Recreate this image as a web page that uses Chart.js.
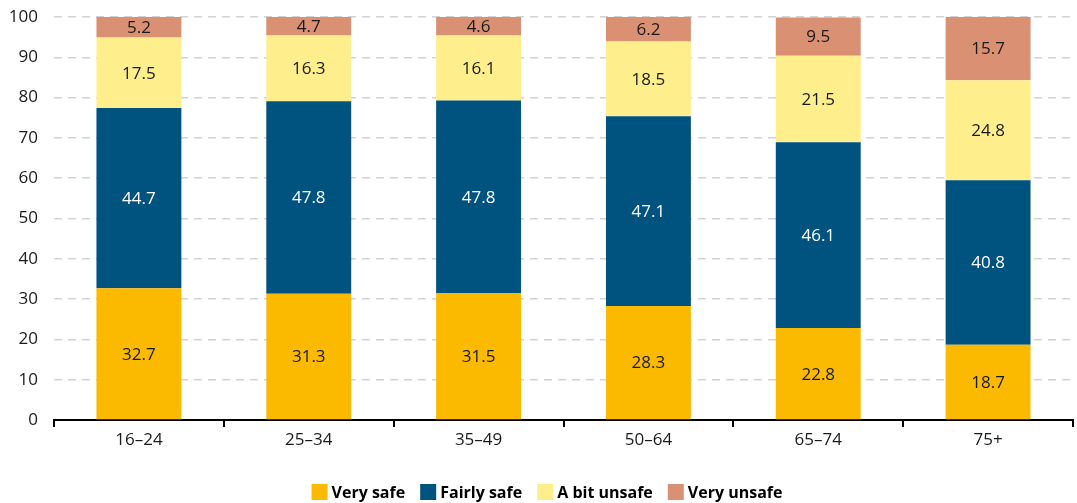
<!DOCTYPE html>
<html>
<head>
<meta charset="utf-8">
<script src="https://cdn.jsdelivr.net/npm/chart.js@4"></script>
<style>
  html, body { margin: 0; padding: 0; background: #fff; }
  #wrap { width: 1077px; height: 503px; position: relative; }
</style>
</head>
<body>
<div id="wrap"><canvas id="c" width="1077" height="503"></canvas></div>
<script>
const categories = ["16–24", "25–34", "35–49", "50–64", "65–74", "75+"];
const verySafe    = [32.7, 31.3, 31.5, 28.3, 22.8, 18.7];
const fairlySafe  = [44.7, 47.8, 47.8, 47.1, 46.1, 40.8];
const aBitUnsafe  = [17.5, 16.3, 16.1, 18.5, 21.5, 24.8];
const veryUnsafe  = [5.2, 4.7, 4.6, 6.2, 9.5, 15.7];
const seriesNames = ["Very safe", "Fairly safe", "A bit unsafe", "Very unsafe"];
const yTicks = [0, 10, 20, 30, 40, 50, 60, 70, 80, 90, 100];

const FONT = "'Open Sans', 'DejaVu Sans', sans-serif";

const labelPlugin = {
  id: 'segLabels',
  afterDatasetsDraw(chart) {
    const ctx = chart.ctx;
    ctx.save();
    ctx.font = "17px " + FONT;
    ctx.textAlign = 'center';
    ctx.textBaseline = 'middle';
    chart.data.datasets.forEach((ds, i) => {
      const meta = chart.getDatasetMeta(i);
      meta.data.forEach((el, j) => {
        const top = Math.max(el.y, chart.chartArea.top);
        const mid = (top + el.base) / 2;
        ctx.fillStyle = ds.labelColor;
        ctx.fillText(ds.data[j].toFixed(1), el.x, mid + 1);
      });
    });
    ctx.restore();
  }
};

const legendPlugin = {
  id: 'customLegend',
  afterDraw(chart) {
    const ctx = chart.ctx;
    ctx.save();
    ctx.font = "bold 16px " + FONT;
    ctx.textBaseline = 'middle';
    ctx.textAlign = 'left';
    const box = 16, gapText = 4, gapItem = 15;
    const items = chart.data.datasets.map(ds => ({ label: ds.label, color: ds.backgroundColor, w: ctx.measureText(ds.label).width }));
    let total = items.reduce((s, it) => s + box + gapText + it.w, 0) + gapItem * (items.length - 1);
    let x = 547 - total / 2;
    const cy = 492;
    items.forEach(it => {
      ctx.fillStyle = it.color;
      ctx.fillRect(x, cy - box / 2, box, box);
      ctx.fillStyle = '#000';
      ctx.fillText(it.label, x + box + gapText, cy + 1);
      x += box + gapText + it.w + gapItem;
    });
    ctx.restore();
  }
};

new Chart(document.getElementById('c'), {
  type: 'bar',
  data: {
    labels: categories,
    datasets: [
      { label: seriesNames[0], data: verySafe,   backgroundColor: '#FBB900', labelColor: '#1a1a1a' },
      { label: seriesNames[1], data: fairlySafe, backgroundColor: '#00527F', labelColor: '#ffffff' },
      { label: seriesNames[2], data: aBitUnsafe, backgroundColor: '#FFEE8C', labelColor: '#1a1a1a' },
      { label: seriesNames[3], data: veryUnsafe, backgroundColor: '#D99073', labelColor: '#1a1a1a' }
    ]
  },
  options: {
    responsive: false,
    animation: false,
    devicePixelRatio: 1,
    layout: { padding: { left: 0, right: 4, top: 17, bottom: 0 } },
    datasets: { bar: { barPercentage: 0.5, categoryPercentage: 1.0, borderWidth: 0 } },
    scales: {
      x: {
        stacked: true,
        afterFit(scale) { scale.height = 83; },
        border: { display: true, color: '#000', width: 2 },
        grid: { display: true, offset: true, drawOnChartArea: false, drawTicks: true, tickLength: 7, color: '#000', lineWidth: 2 },
        ticks: { color: '#1a1a1a', font: { family: FONT, size: 17 }, padding: 3 }
      },
      y: {
        stacked: true,
        min: 0, max: 100,
        afterFit(scale) { scale.width = 54; scale.paddingTop = 0; scale.paddingBottom = 0; },
        afterBuildTicks(scale) { scale.ticks = yTicks.map(v => ({ value: v })); },
        border: { display: false, dash: [8, 6] },
        grid: { color: '#d2d2d2', lineWidth: 1.5, drawTicks: false },
        ticks: { color: '#1a1a1a', font: { family: FONT, size: 17 }, padding: 16 }
      }
    },
    plugins: {
      legend: { display: false },
      tooltip: { enabled: false }
    }
  },
  plugins: [labelPlugin, legendPlugin]
});
</script>
</body>
</html>
